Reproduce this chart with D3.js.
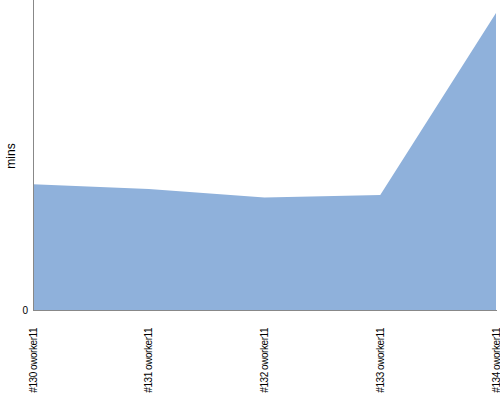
<!DOCTYPE html>
<html>
<head>
<meta charset="utf-8">
<script src="https://cdn.jsdelivr.net/npm/d3@7"></script>
<style>
  body { margin: 0; background: #fff; }
  text { font-family: "Liberation Sans", Arial, sans-serif; }
</style>
</head>
<body>
<script>
// Data
let builds = ["#130 oworker11", "#131 oworker11", "#132 oworker11", "#133 oworker11", "#134 oworker11"];
let mins = [40.6, 39.0, 36.3, 37.1, 95.8];
let yTicks = [0];

let w = 500, h = 400;
let margin = {top: 0, right: 4, bottom: 90, left: 33};

let svg = d3.select("body").append("svg")
            .attr("width", w)
            .attr("height", h);

let x = d3.scalePoint()
          .domain(builds)
          .range([margin.left, w - margin.right]);

let y = d3.scaleLinear()
          .domain([0, 100])
          .range([h - margin.bottom, margin.top]);

let area = d3.area()
             .x((d, i) => x(builds[i]))
             .y0(y(0))
             .y1(d => y(d));

svg.append("path")
   .datum(mins)
   .attr("d", area)
   .attr("fill", "#8fb1db");

// axes lines
svg.append("line")
   .attr("x1", margin.left + 0.5).attr("x2", margin.left + 0.5)
   .attr("y1", 0).attr("y2", y(0))
   .attr("stroke", "#888");
svg.append("line")
   .attr("x1", margin.left).attr("x2", w - 3)
   .attr("y1", y(0) + 0.5).attr("y2", y(0) + 0.5)
   .attr("stroke", "#888");

// y tick labels
svg.selectAll(".ytick")
   .data(yTicks)
   .enter()
   .append("text")
   .attr("class", "ytick")
   .attr("x", 28)
   .attr("y", d => y(d) + 4)
   .attr("text-anchor", "end")
   .attr("font-size", 10)
   .attr("fill", "#000")
   .text(d => d);

// x labels, rotated
svg.selectAll(".xlabel")
   .data(builds)
   .enter()
   .append("text")
   .attr("class", "xlabel")
   .attr("transform", d => `translate(${x(d) + 3.5},${y(0) + 18}) rotate(-90)`)
   .attr("text-anchor", "end")
   .attr("font-size", 10)
   .attr("letter-spacing", -0.45)
   .attr("fill", "#000")
   .text(d => d);

// y axis title
svg.append("text")
   .attr("transform", `translate(15,${156}) rotate(-90)`)
   .attr("text-anchor", "middle")
   .attr("font-size", 12)
   .attr("fill", "#000")
   .text("mins");
</script>
</body>
</html>
